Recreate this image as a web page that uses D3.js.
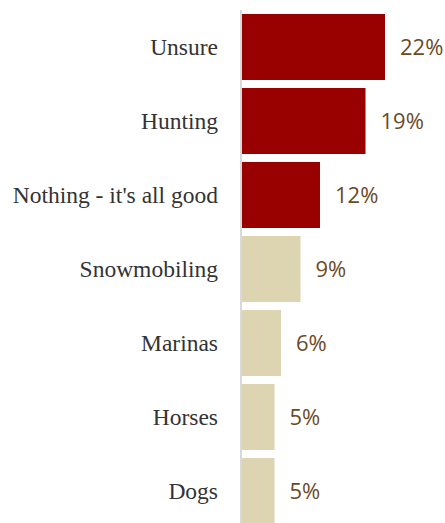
<!DOCTYPE html>
<html>
<head>
<meta charset="utf-8">
<script src="https://cdn.jsdelivr.net/npm/d3@7/dist/d3.min.js"></script>
<style>
  html, body { margin: 0; padding: 0; background: #fff; }
  svg { display: block; }
</style>
</head>
<body>
<svg id="chart" width="445" height="523"></svg>
<script>
// Survey responses, share of respondents (%)
const categories = ["Unsure", "Hunting", "Nothing - it's all good", "Snowmobiling", "Marinas", "Horses", "Dogs"];
const values = [22, 19, 12, 9, 6, 5, 5];
// Top three responses are highlighted
const highlighted = [true, true, true, false, false, false, false];

const rows = categories.map((c, i) => ({ category: c, value: values[i], hi: highlighted[i] }));

const svg = d3.select("#chart");
const x0 = 242;

const x = d3.scaleLinear().domain([0, 22]).range([x0, 385]);
const y = d3.scaleBand()
  .domain(categories)
  .range([10, 528])
  .paddingInner(8 / 74)
  .paddingOuter(4 / 74);

// bars
svg.selectAll("rect.bar")
  .data(rows)
  .join("rect")
  .attr("class", "bar")
  .attr("x", x(0))
  .attr("y", d => y(d.category))
  .attr("width", d => x(d.value) - x(0))
  .attr("height", y.bandwidth())
  .attr("fill", d => d.hi ? "#990000" : "#ddd5b1");

// vertical baseline
svg.append("line")
  .attr("x1", 241).attr("x2", 241)
  .attr("y1", 10).attr("y2", 523)
  .attr("stroke", "#d9d9d9")
  .attr("stroke-width", 2);

// category labels
svg.selectAll("text.cat")
  .data(rows)
  .join("text")
  .attr("class", "cat")
  .attr("x", 218)
  .attr("y", d => y(d.category) + y.bandwidth() / 2)
  .attr("dy", "0.34em")
  .attr("text-anchor", "end")
  .attr("font-family", "'Liberation Serif', serif")
  .attr("font-size", 23.5)
  .attr("fill", "#333333")
  .text(d => d.category);

// value labels
svg.selectAll("text.val")
  .data(rows)
  .join("text")
  .attr("class", "val")
  .attr("x", d => x(d.value) + 15)
  .attr("y", d => y(d.category) + y.bandwidth() / 2)
  .attr("dy", "0.36em")
  .attr("font-family", "'Open Sans', sans-serif")
  .attr("font-size", 22)
  .attr("fill", "#6b4a26")
  .text(d => d.value + "%");
</script>
</body>
</html>
